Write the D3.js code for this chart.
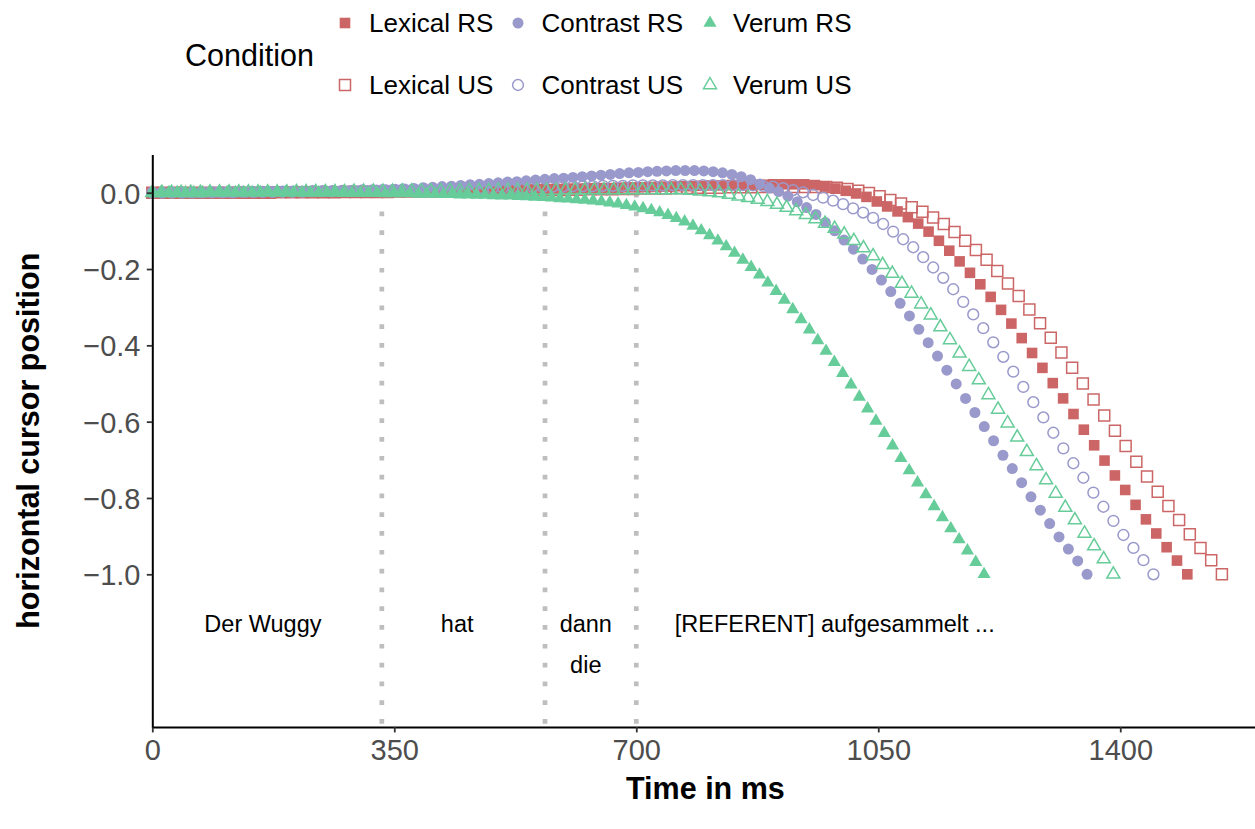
<!DOCTYPE html>
<html>
<head>
<meta charset="utf-8">
<script src="https://cdn.jsdelivr.net/npm/d3@7"></script>
<style>
  html, body { margin: 0; padding: 0; background: #ffffff; }
  svg { display: block; font-family: "Liberation Sans", Arial, Helvetica, sans-serif; }
</style>
</head>
<body>
<svg id="chart" width="1255" height="829"></svg>
<script>
// ---------------- data ----------------
const conditions = ["Lexical RS", "Contrast RS", "Verum RS", "Lexical US", "Contrast US", "Verum US"];
// ms between successive (time-normalised) samples, one per condition
const sampleStepMs = { "Lexical RS": 14.97, "Lexical US": 15.47, "Contrast RS": 13.52, "Contrast US": 14.48, "Verum RS": 12.03, "Verum US": 13.90 };

const lexicalRS = [0,0,0,0,0,0,0,0,0,0,
0,0,0.001,0.001,0.001,0.001,0.001,0.001,0.001,0.001,
0.001,0.002,0.002,0.002,0.002,0.003,0.003,0.003,0.004,0.004,
0.004,0.005,0.005,0.006,0.006,0.007,0.007,0.008,0.008,0.009,
0.010,0.010,0.011,0.012,0.012,0.013,0.014,0.014,0.015,0.016,
0.016,0.017,0.017,0.018,0.019,0.019,0.020,0.020,0.021,0.021,
0.022,0.022,0.022,0.022,0.020,0.016,0.011,0.005,-0.002,-0.011,
-0.023,-0.036,-0.049,-0.064,-0.081,-0.102,-0.126,-0.152,-0.180,-0.210,
-0.240,-0.273,-0.307,-0.343,-0.381,-0.420,-0.459,-0.499,-0.539,-0.580,
-0.621,-0.662,-0.702,-0.741,-0.779,-0.818,-0.856,-0.893,-0.929,-0.964,
-1.000];

const lexicalUS = [0,0,0,0,0,0,0,0,0,0,
0,0,0.001,0.001,0.001,0.001,0.001,0.001,0.002,0.002,
0.002,0.002,0.002,0.003,0.003,0.003,0.003,0.004,0.004,0.004,
0.005,0.005,0.005,0.006,0.006,0.006,0.007,0.007,0.007,0.008,
0.008,0.009,0.009,0.009,0.010,0.010,0.011,0.011,0.011,0.012,
0.012,0.013,0.013,0.013,0.014,0.014,0.014,0.015,0.015,0.015,
0.015,0.015,0.015,0.015,0.013,0.010,0.005,-0.001,-0.009,-0.019,
-0.028,-0.038,-0.050,-0.065,-0.082,-0.103,-0.126,-0.150,-0.176,-0.205,
-0.238,-0.271,-0.306,-0.342,-0.380,-0.419,-0.459,-0.500,-0.542,-0.584,
-0.624,-0.664,-0.705,-0.744,-0.784,-0.821,-0.858,-0.895,-0.931,-0.963,
-1.000];

const contrastRS = [0,0,0,0,0,0,0.001,0.001,0.001,0.001,
0.001,0.001,0.002,0.002,0.002,0.002,0.003,0.003,0.003,0.004,
0.004,0.005,0.005,0.006,0.007,0.008,0.009,0.010,0.011,0.013,
0.014,0.016,0.017,0.019,0.021,0.022,0.024,0.026,0.028,0.029,
0.031,0.033,0.035,0.037,0.038,0.040,0.042,0.044,0.046,0.048,
0.050,0.052,0.053,0.055,0.056,0.057,0.058,0.058,0.058,0.057,
0.055,0.052,0.048,0.042,0.034,0.023,0.012,0.003,-0.009,-0.024,
-0.039,-0.057,-0.078,-0.100,-0.124,-0.148,-0.174,-0.201,-0.229,-0.259,
-0.290,-0.323,-0.358,-0.393,-0.428,-0.465,-0.501,-0.539,-0.576,-0.613,
-0.650,-0.688,-0.723,-0.760,-0.797,-0.832,-0.867,-0.902,-0.934,-0.965,
-1.000];

const contrastUS = [0,0,0,0,0,0.001,0.001,0.001,0.001,0.002,
0.002,0.002,0.002,0.003,0.003,0.003,0.004,0.004,0.004,0.005,
0.005,0.006,0.006,0.007,0.007,0.008,0.008,0.009,0.009,0.010,
0.010,0.011,0.011,0.012,0.012,0.013,0.014,0.014,0.015,0.015,
0.016,0.016,0.017,0.017,0.017,0.018,0.018,0.018,0.019,0.019,
0.019,0.019,0.020,0.020,0.020,0.020,0.020,0.020,0.020,0.020,
0.019,0.018,0.016,0.012,0.007,0.001,-0.006,-0.013,-0.021,-0.030,
-0.041,-0.052,-0.066,-0.082,-0.102,-0.122,-0.143,-0.169,-0.196,-0.223,
-0.253,-0.286,-0.319,-0.355,-0.392,-0.430,-0.469,-0.509,-0.549,-0.589,
-0.629,-0.670,-0.709,-0.747,-0.786,-0.823,-0.860,-0.897,-0.931,-0.963,
-1.000];

const verumRS = [0,0,0.001,0.001,0.001,0.001,0.001,0.001,0.001,0.001,
0.001,0.001,0.001,0.001,0.001,0.001,0.001,0.001,0,0,
0,0,0,-0.001,-0.001,-0.001,-0.001,-0.001,-0.002,-0.002,
-0.002,-0.002,-0.003,-0.003,-0.003,-0.004,-0.004,-0.005,-0.005,-0.006,
-0.006,-0.007,-0.008,-0.008,-0.009,-0.010,-0.011,-0.012,-0.013,-0.015,
-0.016,-0.018,-0.019,-0.021,-0.023,-0.026,-0.029,-0.033,-0.037,-0.041,
-0.046,-0.052,-0.059,-0.067,-0.076,-0.087,-0.099,-0.112,-0.126,-0.141,
-0.158,-0.176,-0.195,-0.215,-0.236,-0.258,-0.281,-0.306,-0.332,-0.359,
-0.387,-0.415,-0.444,-0.473,-0.503,-0.535,-0.566,-0.598,-0.630,-0.663,
-0.696,-0.728,-0.760,-0.791,-0.822,-0.851,-0.880,-0.909,-0.938,-0.968,
-1.000];

const verumUS = [0,0,0,0,0,0,0.001,0.001,0.001,0.001,
0.001,0.001,0.001,0.001,0.001,0.002,0.002,0.002,0.002,0.002,
0.002,0.003,0.003,0.003,0.003,0.003,0.004,0.004,0.004,0.004,
0.004,0.005,0.005,0.005,0.005,0.005,0.006,0.006,0.006,0.006,
0.006,0.006,0.006,0.007,0.007,0.007,0.007,0.007,0.007,0.007,
0.007,0.007,0.007,0.007,0.007,0.007,0.006,0.004,0.002,-0.001,
-0.005,-0.009,-0.013,-0.018,-0.024,-0.031,-0.039,-0.048,-0.058,-0.069,
-0.081,-0.094,-0.109,-0.126,-0.145,-0.166,-0.189,-0.212,-0.238,-0.264,
-0.292,-0.321,-0.352,-0.386,-0.421,-0.456,-0.491,-0.530,-0.568,-0.604,
-0.641,-0.679,-0.716,-0.753,-0.788,-0.825,-0.858,-0.893,-0.926,-0.960,
-1.000];

const xTicks = [0, 350, 700, 1050, 1400];
const yTicks = [0, -0.2, -0.4, -0.6, -0.8, -1.0];
const wordBoundariesMs = [332, 568, 700];
const wordLabels = ["Der Wuggy", "hat", "dann", "die", "[REFERENT] aufgesammelt ..."];
const wordLabelX = [160, 441, 627, 627, 987];
const wordLabelY = [-1.15, -1.15, -1.15, -1.259, -1.15];

// ---------------- setup ----------------
const seriesValues = {
  "Lexical RS": lexicalRS, "Lexical US": lexicalUS,
  "Contrast RS": contrastRS, "Contrast US": contrastUS,
  "Verum RS": verumRS, "Verum US": verumUS
};
const colorOf = { Lexical: "#CC6666", Contrast: "#9999CC", Verum: "#66CC99" };
const shapeOf = {
  "Lexical RS": { type: d3.symbolSquare, size: 10.6 * 10.6, filled: true },
  "Lexical US": { type: d3.symbolSquare, size: 11 * 11, filled: false },
  "Contrast RS": { type: d3.symbolCircle, size: Math.PI * 5.5 * 5.5, filled: true },
  "Contrast US": { type: d3.symbolCircle, size: Math.PI * 5.4 * 5.4, filled: false },
  "Verum RS": { type: d3.symbolTriangle, size: 3 * Math.sqrt(3) * 7.6 * 7.6 / 4, filled: true },
  "Verum US": { type: d3.symbolTriangle, size: 3 * Math.sqrt(3) * 7.5 * 7.5 / 4, filled: false }
};
const drawOrder = ["Lexical US", "Lexical RS", "Contrast US", "Contrast RS", "Verum US", "Verum RS"];

const svg = d3.select("#chart");
const x = d3.scaleLinear().domain([0, 1600]).range([152.3, 152.3 + 1600 * 0.6914]);
const y = d3.scaleLinear().domain([-1.4, 0.1]).range([192.7 + 1.4 * 381.6, 192.7 - 0.1 * 381.6]);

// word boundary dotted segments
svg.append("g").selectAll("line").data(wordBoundariesMs).join("line")
  .attr("x1", d => x(d)).attr("x2", d => x(d))
  .attr("y1", y(0)).attr("y2", y(-1.4))
  .attr("stroke", "#BEBEBE").attr("stroke-width", 4.7)
  .attr("stroke-dasharray", "4.7 14.1");

// word labels
svg.append("g").selectAll("text").data(wordLabels).join("text")
  .attr("x", (d, i) => x(wordLabelX[i]))
  .attr("y", (d, i) => y(wordLabelY[i]))
  .attr("text-anchor", "middle")
  .attr("font-size", 23.5)
  .attr("fill", "#000")
  .text(d => d);

// points
const pointsG = svg.append("g");
drawOrder.forEach(name => {
  const vals = seriesValues[name];
  const col = colorOf[name.split(" ")[0]];
  const sh = shapeOf[name];
  const sym = d3.symbol().type(sh.type).size(sh.size);
  pointsG.append("g").selectAll("path").data(vals).join("path")
    .attr("d", sym)
    .attr("transform", (v, i) => `translate(${x(i * sampleStepMs[name])},${y(v)})`)
    .attr("fill", sh.filled ? col : "none")
    .attr("stroke", sh.filled ? "none" : col)
    .attr("stroke-width", sh.filled ? 0 : 1.5);
});

// axes
const xAxis = d3.axisBottom(x).tickValues(xTicks).tickSize(5.5).tickSizeOuter(0).tickPadding(6.9).tickFormat(d3.format("d"));
const yAxis = d3.axisLeft(y).tickValues(yTicks).tickSize(5.5).tickSizeOuter(0).tickPadding(6.3).tickFormat(d3.format(".1f"));

const gx = svg.append("g").attr("transform", `translate(0,${y(-1.4)})`).call(xAxis);
const gy = svg.append("g").attr("transform", `translate(${x(0)},0)`).call(yAxis);
[gx, gy].forEach(g => {
  g.select(".domain").attr("stroke", "#000").attr("stroke-width", 2);
  g.selectAll(".tick line").attr("stroke", "#333333").attr("stroke-width", 1.8);
  g.selectAll(".tick text").attr("font-size", 29).attr("fill", "#4D4D4D")
    .attr("font-family", "Liberation Sans, Arial, sans-serif");
});
gy.selectAll(".tick text").attr("dy", "0.36em");

// axis titles
svg.append("text").attr("x", (x(0) + x(1600)) / 2).attr("y", 799)
  .attr("text-anchor", "middle").attr("font-size", 30.5).attr("font-weight", "bold")
  .text("Time in ms");
svg.append("text")
  .attr("transform", `translate(38.5,${(y(0.1) + y(-1.4)) / 2}) rotate(-90)`)
  .attr("text-anchor", "middle").attr("font-size", 30.5).attr("font-weight", "bold")
  .text("horizontal cursor position");

// legend
const legend = svg.append("g");
legend.append("text").attr("x", 185).attr("y", 66).attr("font-size", 30.5).text("Condition");
const legendKeyX = { Lexical: 345, Contrast: 518, Verum: 710 };
const legendTextX = { Lexical: 369, Contrast: 541.5, Verum: 733 };
const legendRowY = { RS: 23, US: 85 };
conditions.forEach(name => {
  const [fam, kind] = name.split(" ");
  const sh = shapeOf[name];
  const col = colorOf[fam];
  legend.append("path")
    .attr("d", d3.symbol().type(sh.type).size(sh.size)())
    .attr("transform", `translate(${legendKeyX[fam]},${legendRowY[kind]})`)
    .attr("fill", sh.filled ? col : "none")
    .attr("stroke", sh.filled ? "none" : col)
    .attr("stroke-width", sh.filled ? 0 : 1.5);
  legend.append("text")
    .attr("x", legendTextX[fam]).attr("y", legendRowY[kind] + 9.2)
    .attr("font-size", 26).attr("fill", "#000")
    .text(name);
});
</script>
</body>
</html>
